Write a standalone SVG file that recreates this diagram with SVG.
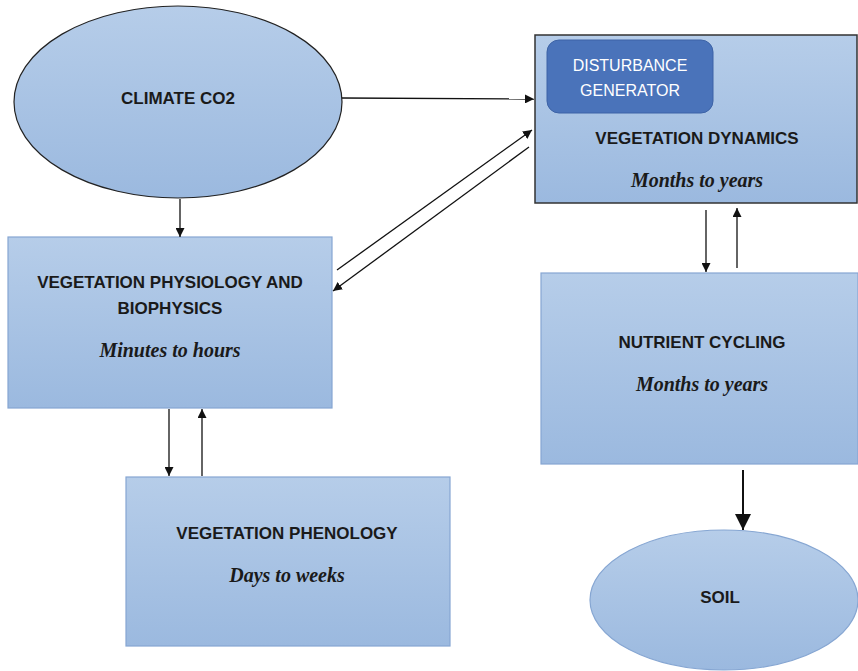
<svg xmlns="http://www.w3.org/2000/svg" width="858" height="671" viewBox="0 0 858 671">
<style>
.lbl{font-family:"Liberation Sans",Arial,sans-serif;font-weight:bold;font-size:17px;fill:#1a1a1a;text-anchor:middle}
.it{font-family:"Liberation Serif","Times New Roman",serif;font-weight:bold;font-style:italic;font-size:20px;fill:#1a1a1a;text-anchor:middle}
.box{fill:url(#g);stroke:#86a6d2;stroke-width:1.2}
.ell{fill:url(#g);stroke:#222;stroke-width:1.2}
.con line{stroke:#111;stroke-width:1.3;fill:none}
</style>
<defs>
<linearGradient id="g" x1="0" y1="0" x2="0" y2="1">
<stop offset="0" stop-color="#b6cde9"/>
<stop offset="1" stop-color="#9bb9df"/>
</linearGradient>
<marker id="ah" viewBox="0 0 10 10" refX="10" refY="5" markerWidth="9" markerHeight="9" markerUnits="userSpaceOnUse" orient="auto">
<path d="M0,0 L10,5 L0,10 z" fill="#111"/>
</marker>
<marker id="ahb" viewBox="0 0 10 10" refX="10" refY="5" markerWidth="16" markerHeight="16" markerUnits="userSpaceOnUse" orient="auto">
<path d="M0,0 L10,5 L0,10 z" fill="#111"/>
</marker>
</defs>
<rect width="858" height="671" fill="#fff"/>
<g id="climate">
<ellipse class="ell" cx="178" cy="102" rx="164" ry="96"/>
<text class="lbl" x="178" y="104">CLIMATE CO2</text>
</g>
<g id="physiology">
<rect class="box" x="8" y="237" width="324" height="171"/>
<text class="lbl" x="170" y="288">VEGETATION PHYSIOLOGY AND</text>
<text class="lbl" x="170" y="314">BIOPHYSICS</text>
<text class="it" x="170" y="357">Minutes to hours</text>
</g>
<g id="dynamics">
<rect x="535" y="35" width="322" height="168" fill="url(#g)" stroke="#333" stroke-width="1.5"/>
<text class="lbl" x="697" y="144">VEGETATION DYNAMICS</text>
<text class="it" x="697" y="187">Months to years</text>
</g>
<g id="disturbance">
<rect x="547" y="40" width="166" height="73" rx="12" fill="#4a73ba" stroke="#3d63a6" stroke-width="1"/>
<text class="lbl" x="630" y="71" style="fill:#fff;font-weight:normal;font-size:16px">DISTURBANCE</text>
<text class="lbl" x="630" y="96" style="fill:#fff;font-weight:normal;font-size:16px">GENERATOR</text>
</g>
<g id="nutrient">
<rect class="box" x="541" y="273" width="317" height="191"/>
<text class="lbl" x="702" y="348">NUTRIENT CYCLING</text>
<text class="it" x="702" y="391">Months to years</text>
</g>
<g id="phenology">
<rect class="box" x="126" y="477" width="324" height="169"/>
<text class="lbl" x="287" y="539">VEGETATION PHENOLOGY</text>
<text class="it" x="287" y="582">Days to weeks</text>
</g>
<g id="soil">
<ellipse class="box" cx="724" cy="600" rx="134" ry="70"/>
<text class="lbl" x="720" y="603">SOIL</text>
</g>
<g id="connectors" class="con">
<line x1="180" y1="199" x2="180" y2="237" marker-end="url(#ah)"/>
<line x1="342" y1="98" x2="534" y2="99" marker-end="url(#ah)"/>
<line x1="337" y1="270" x2="532" y2="130" marker-end="url(#ah)"/>
<line x1="529" y1="147" x2="333" y2="291" marker-end="url(#ah)"/>
<line x1="706" y1="210" x2="706" y2="272" marker-end="url(#ah)"/>
<line x1="737" y1="268" x2="737" y2="208" marker-end="url(#ah)"/>
<line x1="169" y1="409" x2="169" y2="476" marker-end="url(#ah)"/>
<line x1="202" y1="476" x2="202" y2="409" marker-end="url(#ah)"/>
<line x1="743" y1="470" x2="743" y2="530" marker-end="url(#ahb)" style="stroke-width:2"/>
</g>
</svg>
